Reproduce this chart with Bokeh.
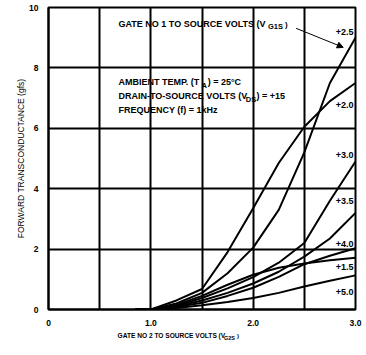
from bokeh.plotting import figure
from bokeh.models import Label, Arrow, NormalHead, FixedTicker, Range1d
from bokeh.layouts import column
from bokeh.embed import file_html
from bokeh.resources import INLINE

# Gate No.2-to-source volts (x)
vg2s = [0.85, 1.0, 1.25, 1.5, 1.75, 2.0, 2.25, 2.5, 2.75, 3.0]
# forward transconductance for each gate No.1-to-source voltage
gfs_p25 = [0, 0, 0.2, 0.55, 1.2, 2.05, 3.3, 5.2, 7.5, 9.0]
gfs_p20 = [0, 0, 0.3, 0.68, 1.9, 3.35, 4.85, 6.05, 6.9, 7.5]
gfs_p30 = [0, 0, 0.12, 0.38, 0.7, 1.07, 1.55, 2.2, 3.6, 4.9]
gfs_p35 = [0, 0, 0.1, 0.3, 0.55, 0.86, 1.25, 1.75, 2.35, 3.2]
gfs_p40 = [0, 0, 0.08, 0.22, 0.45, 0.72, 1.08, 1.5, 1.78, 2.03]
gfs_p15 = [0, 0, 0.15, 0.45, 0.82, 1.15, 1.38, 1.52, 1.63, 1.71]
gfs_p50 = [0, 0, 0.05, 0.14, 0.25, 0.38, 0.55, 0.76, 0.95, 1.13]

series = [gfs_p25, gfs_p20, gfs_p30, gfs_p35, gfs_p40, gfs_p15, gfs_p50]
curve_labels = ["+2.5", "+2.0", "+3.0", "+3.5", "+4.0", "+1.5", "+5.0"]
label_y = [9.18, 6.78, 5.10, 3.59, 2.17, 1.41, 0.59]

x_ticks = [0, 1, 2, 3]
x_tick_labels = ["0", "1.0", "2.0", "3.0"]
y_ticks = [0, 2, 4, 6, 8, 10]

FONT = "Liberation Sans"

p = figure(width=366, height=328, output_backend="svg", toolbar_location=None,
           x_range=Range1d(0, 3), y_range=Range1d(0, 10),
           min_border_left=48, min_border_right=11, min_border_top=7,
           min_border_bottom=17, background_fill_color="white",
           border_fill_color="white")

p.outline_line_color = "black"
p.outline_line_width = 2

for ax in (p.xaxis[0], p.yaxis[0]):
    ax.axis_line_color = "black"
    ax.axis_line_width = 2
    ax.major_tick_line_color = None
    ax.minor_tick_line_color = None
    ax.major_label_text_font = FONT
    ax.major_label_text_font_style = "bold"
    ax.major_label_text_font_size = "8.5px"
    ax.major_label_text_color = "black"

p.xaxis.ticker = FixedTicker(ticks=x_ticks)
p.xaxis.major_label_overrides = {t: s for t, s in zip(x_ticks, x_tick_labels)}
p.xaxis.major_label_standoff = 4
p.yaxis.ticker = FixedTicker(ticks=y_ticks)
p.yaxis.major_label_standoff = 4
p.yaxis.axis_label = "FORWARD TRANSCONDUCTANCE (gfs)"
p.yaxis.axis_label_text_font = FONT
p.yaxis.axis_label_text_font_style = "normal"
p.yaxis.axis_label_text_font_size = "8.5px"
p.yaxis.axis_label_text_color = "black"
p.yaxis.axis_label_standoff = 0

p.xgrid.ticker = FixedTicker(ticks=[0.5, 1.0, 1.5, 2.0, 2.5])
p.ygrid.ticker = FixedTicker(ticks=[2, 4, 6, 8])
for g in (p.xgrid[0], p.ygrid[0]):
    g.grid_line_color = "black"
    g.grid_line_width = 2
    g.grid_line_alpha = 1.0

for ys in series:
    p.line(vg2s, ys, line_color="black", line_width=2, line_join="round")

for txt, ly in zip(curve_labels, label_y):
    p.add_layout(Label(x=2.98, y=ly, text=txt, text_align="right",
                       text_baseline="middle", text_font=FONT,
                       text_font_style="bold", text_font_size="9px",
                       text_color="black"))

def lab(fig, x, y, t, size="9px", align="left", style="bold"):
    fig.add_layout(Label(x=x, y=y, text=t, text_align=align, text_baseline="middle",
                         text_font=FONT, text_font_style=style, text_font_size=size,
                         text_color="black"))

# header annotation
lab(p, 0.684, 9.47, "GATE NO 1 TO SOURCE VOLTS (V")
lab(p, 2.145, 9.37, "G1S", size="7.5px")
lab(p, 2.31, 9.45, ")", size="8px")

lab(p, 0.684, 7.53, "AMBIENT TEMP. (T")
lab(p, 1.495, 7.43, "A", size="7.5px")
lab(p, 1.555, 7.53, ") = 25°C")

lab(p, 0.684, 7.07, "DRAIN-TO-SOURCE VOLTS (V")
lab(p, 1.928, 6.97, "DS", size="7.5px")
lab(p, 2.032, 7.07, ") = +15")

lab(p, 0.684, 6.61, "FREQUENCY (f) = 1kHz")

p.add_layout(Arrow(end=NormalHead(size=6, fill_color="black", line_color="black"),
                   x_start=2.42, y_start=9.31, x_end=2.88, y_end=8.68,
                   line_color="black", line_width=1))

# strip below holding the x-axis title (with subscript); its frame aligns with p's frame
p2 = figure(width=366, height=27, output_backend="svg", toolbar_location=None,
            x_range=Range1d(48, 355), y_range=Range1d(0, 27),
            x_axis_location=None, y_axis_location=None, min_border=0,
            background_fill_color="white", border_fill_color="white")
p2.outline_line_color = None
p2.xgrid.visible = False
p2.ygrid.visible = False
lab(p2, 117, 20, "GATE NO 2 TO SOURCE VOLTS (V", size="6.6px")
lab(p2, 223.5, 18, "G2S", size="5.5px")
lab(p2, 236.5, 19.5, ")", size="6px")

layout = column(p, p2, spacing=0)
open("out.html", "w").write(file_html(layout, INLINE))
